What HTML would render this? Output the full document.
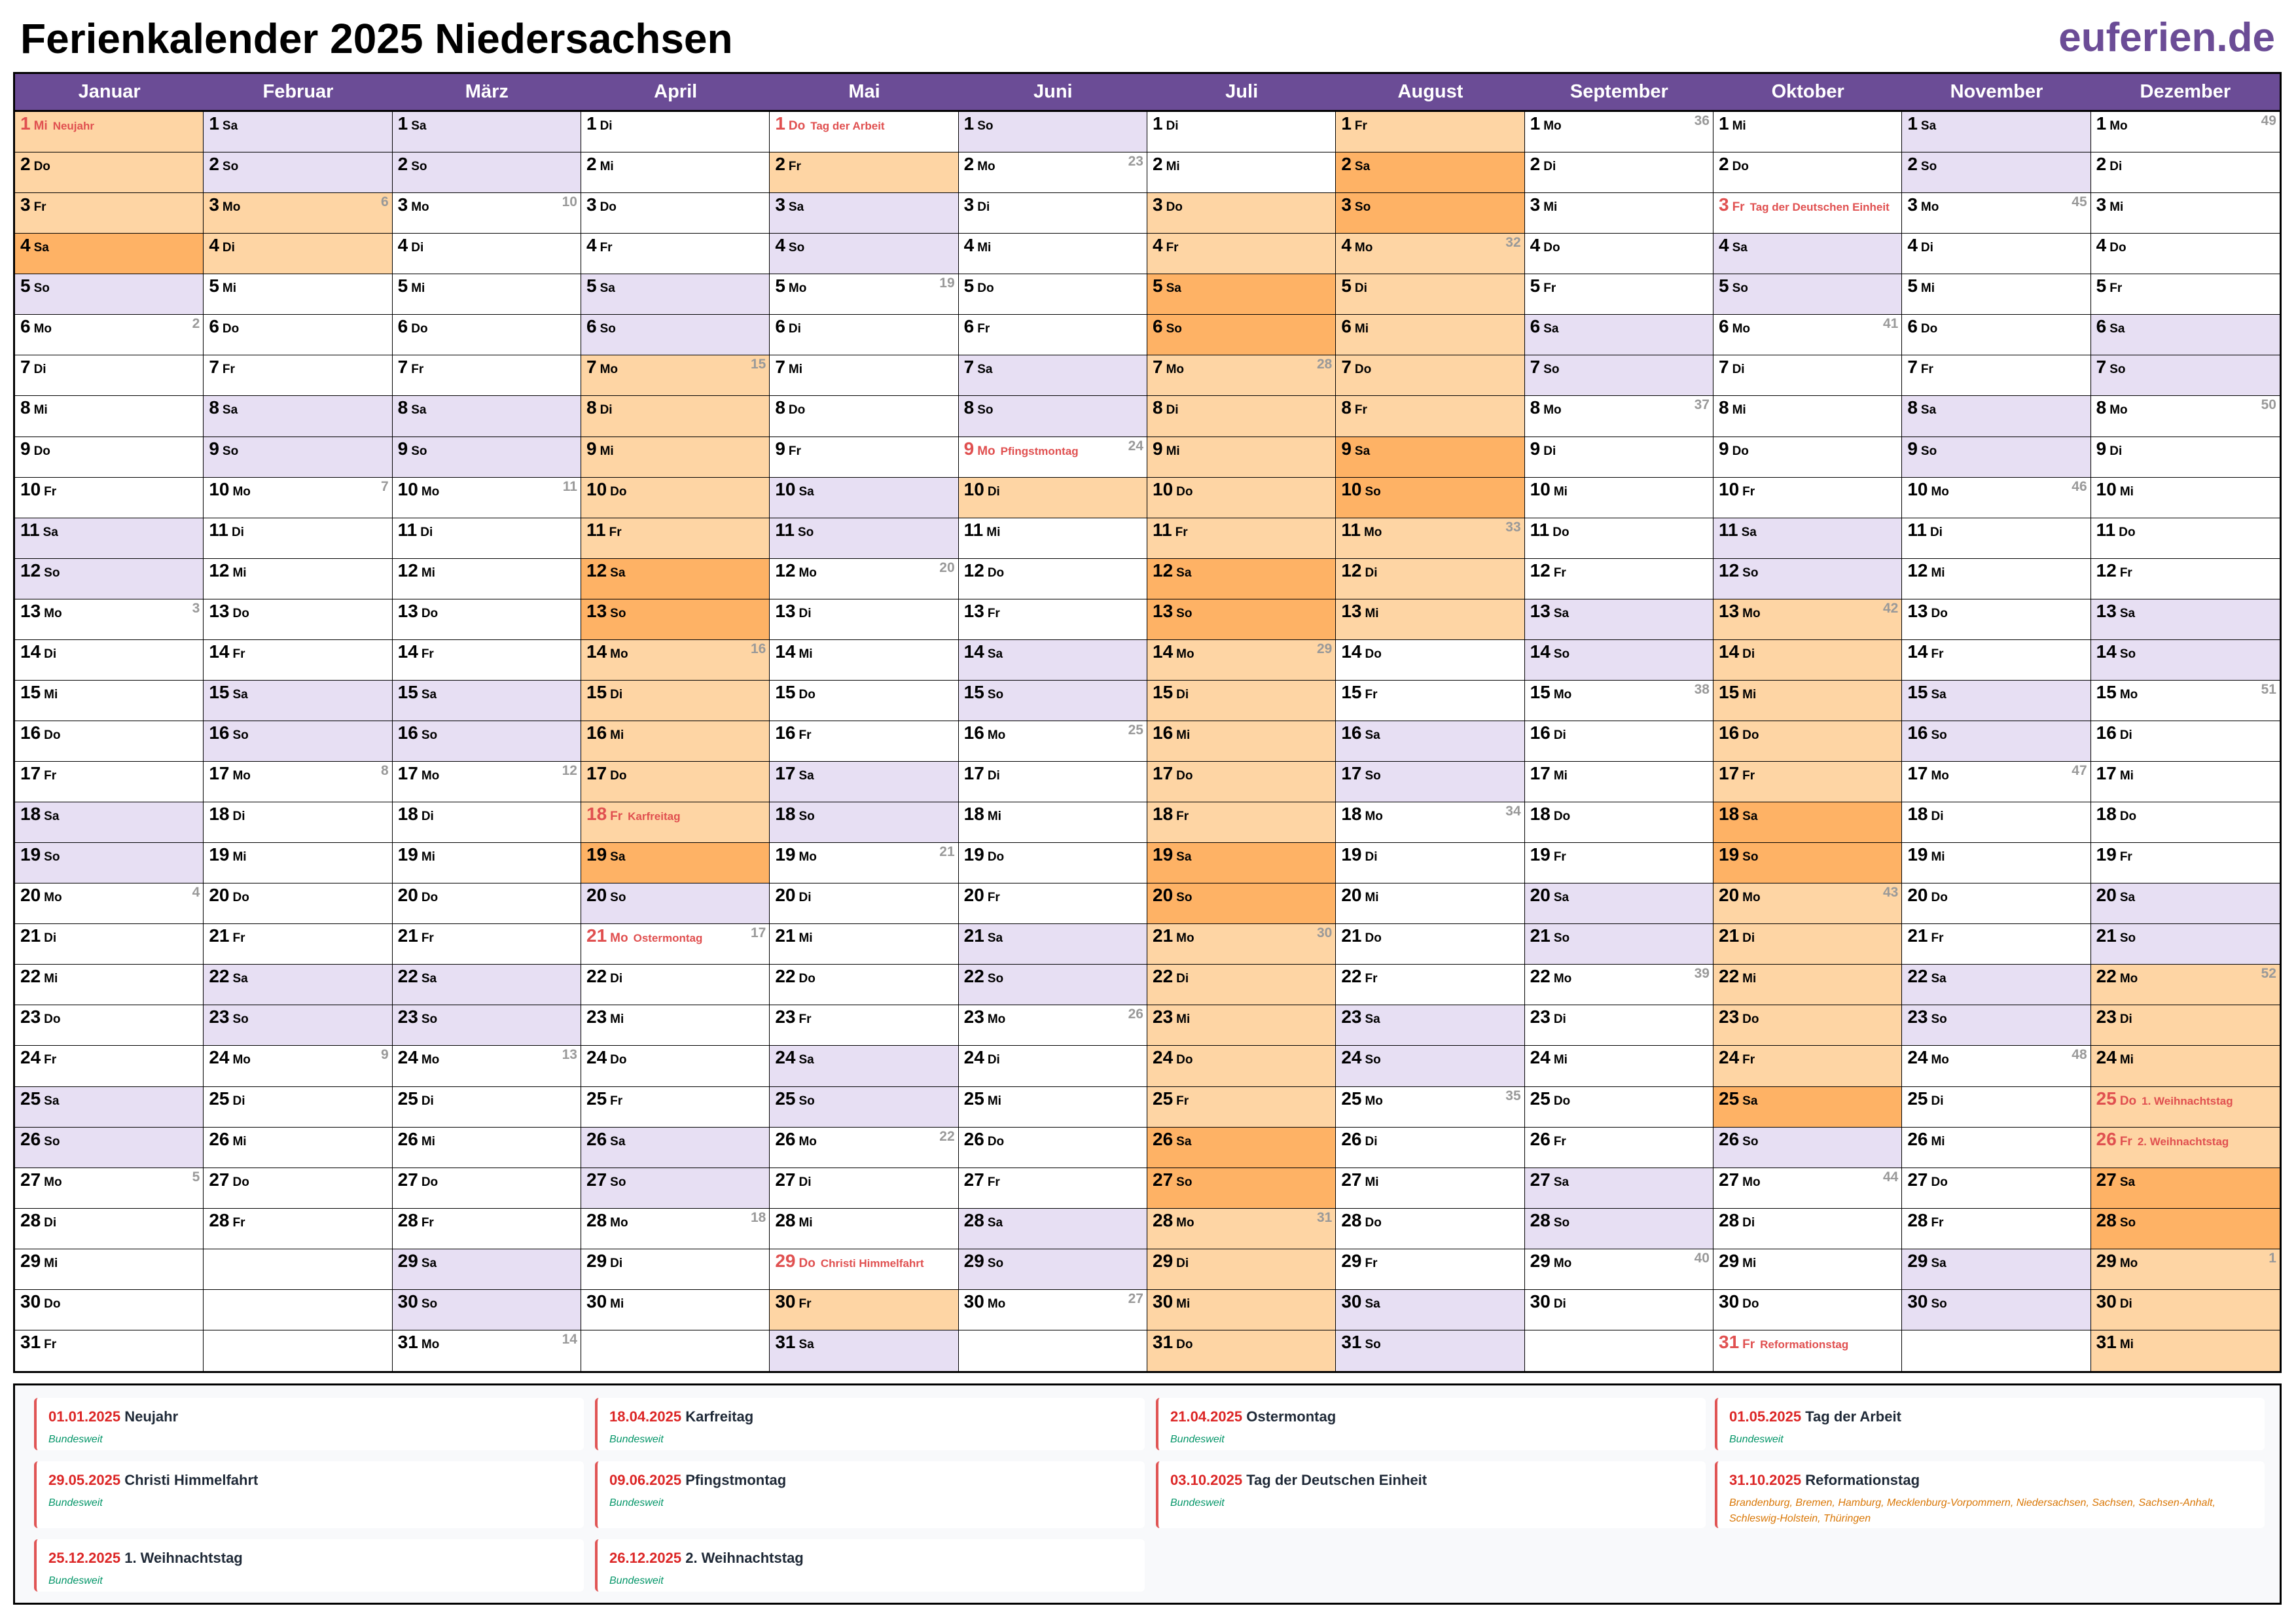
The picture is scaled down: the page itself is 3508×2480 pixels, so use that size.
<!DOCTYPE html>
<html><head><meta charset="utf-8"><style>
body{margin:0;width:3508px;height:2480px;background:#fff;position:relative;font-family:"Liberation Sans",Arial,sans-serif;overflow:hidden}
.t{position:absolute;left:31px;top:22px;font-size:64px;font-weight:bold;color:#000}
.l{position:absolute;right:32px;top:22px;font-size:62px;font-weight:bold;color:#6b4c96}
#tb{position:absolute;left:20px;top:110px;width:3466px;height:1988px;border:3px solid #000;box-sizing:border-box}
.h{position:absolute;top:0;height:55px;background:#6b4c96;color:#fff;font-weight:bold;font-size:29px;text-align:center;line-height:55px}
.c{position:absolute;box-sizing:border-box;border-right:1.5px solid #000;border-bottom:1.5px solid #000;overflow:hidden;white-space:nowrap}
.n{position:absolute;left:8px;top:2px;font-size:28px;font-weight:bold}
.n b{font-size:19px;margin-left:5px}
.n i{font-style:normal;font-size:17px;margin-left:8px}
.w{position:absolute;right:5px;top:2px;font-size:21px;font-weight:bold;color:#999}
.r{color:#e05050}
#lg{position:absolute;left:20px;top:2114px;width:3466px;height:338px;border:3px solid #000;box-sizing:border-box;background:#f8f9fb}
.k{position:absolute;background:#fff;border-left:4px solid #e05555;border-radius:6px;box-sizing:border-box;padding:16px 0 0 18px}
.k .d{font-size:22px;font-weight:bold;color:#1f2937}
.k .d span{color:#dc2626}
.k .s{font-size:16px;font-style:italic;color:#059669;margin-top:10px;line-height:24px}
.k .o{color:#d97706}
</style></head><body>
<div class="t">Ferienkalender 2025 Niedersachsen</div>
<div class="l">euferien.de</div>
<div id="tb"></div>
<div id="lg"></div>
<script>
var M=["Januar","Februar","März","April","Mai","Juni","Juli","August","September","Oktober","November","Dezember"];
var D=["So","Mo","Di","Mi","Do","Fr","Sa"];
var H={"1-1":"Neujahr","4-18":"Karfreitag","4-21":"Ostermontag","5-1":"Tag der Arbeit","5-29":"Christi Himmelfahrt","6-9":"Pfingstmontag","10-3":"Tag der Deutschen Einheit","10-31":"Reformationstag","12-25":"1. Weihnachtstag","12-26":"2. Weihnachtstag"};
var F=[[1,1,1,4],[2,3,2,4],[4,7,4,19],[5,2,5,2],[5,30,5,30],[6,10,6,10],[7,3,8,13],[10,13,10,25],[12,22,12,31]];
function fer(m,d){for(var f of F){var a=f[0]*100+f[1],b=f[2]*100+f[3],x=m*100+d;if(x>=a&&x<=b)return true}return false}
function iso(dt){var t=new Date(Date.UTC(dt.getFullYear(),dt.getMonth(),dt.getDate()));var dn=t.getUTCDay()||7;t.setUTCDate(t.getUTCDate()+4-dn);var y=new Date(Date.UTC(t.getUTCFullYear(),0,1));return Math.ceil(((t-y)/864e5+1)/7)}
var tb=document.getElementById('tb'),W=(3466-6)/12,RH=(1988-6-58)/31,s='';
for(var m=0;m<12;m++){var x=m*W;
s+='<div class="h" style="left:'+x+'px;width:'+W+'px">'+M[m]+'</div>';
var nd=new Date(2025,m+1,0).getDate();
for(var d=1;d<=31;d++){var y=58+(d-1)*RH;var bg='#fff',inner='';
if(d<=nd){var dt=new Date(2025,m,d),wd=dt.getDay(),we=(wd==0||wd==6),f=fer(m+1,d);
bg=f?(we?'#feb265':'#fed5a4'):(we?'#e7dff3':'#fff');
var h=H[(m+1)+'-'+d];
inner='<div class="n'+(h?' r':'')+'">'+d+'<b>'+D[wd]+'</b>'+(h?'<i><b style="margin:0;font-size:17px">'+h+'</b></i>':'')+'</div>';
if(wd==1)inner+='<div class="w">'+iso(dt)+'</div>';}
s+='<div class="c" style="left:'+x+'px;top:'+y+'px;width:'+W+'px;height:'+RH+'px;background:'+bg+(m==11?';border-right:none':'')+(d==31?';border-bottom:none':'')+'">'+inner+'</div>';}}
tb.innerHTML=s+'<div style="position:absolute;left:0;right:0;top:55px;height:3px;background:#000"></div>';
var L=[["01.01.2025","Neujahr"],["18.04.2025","Karfreitag"],["21.04.2025","Ostermontag"],["01.05.2025","Tag der Arbeit"],["29.05.2025","Christi Himmelfahrt"],["09.06.2025","Pfingstmontag"],["03.10.2025","Tag der Deutschen Einheit"],["31.10.2025","Reformationstag"],["25.12.2025","1. Weihnachtstag"],["26.12.2025","2. Weihnachtstag"]];
var X=[29,886,1743,2597],Y=[[19,80],[116,102],[235,80]],o='';
L.forEach(function(e,i){var r=Math.floor(i/4),c=i%4;
var sub=i==7?'<div class="s o">Brandenburg, Bremen, Hamburg, Mecklenburg-Vorpommern, Niedersachsen, Sachsen, Sachsen-Anhalt,<br>Schleswig-Holstein, Thüringen</div>':'<div class="s">Bundesweit</div>';
o+='<div class="k" style="left:'+X[c]+'px;top:'+Y[r][0]+'px;width:840px;height:'+Y[r][1]+'px"><div class="d"><span>'+e[0]+'</span> '+e[1]+'</div>'+sub+'</div>';});
document.getElementById('lg').innerHTML=o;
</script>
</body></html>
